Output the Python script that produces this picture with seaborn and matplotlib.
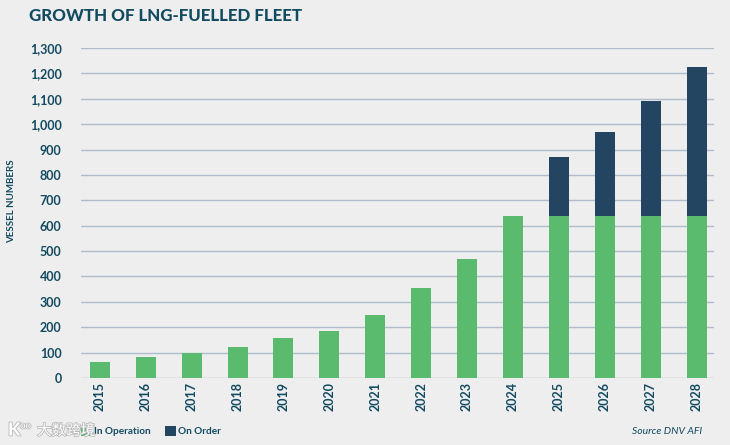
import numpy as np
import pandas as pd
import matplotlib
matplotlib.use('Agg')
import matplotlib.pyplot as plt
import matplotlib.patheffects as pe
from matplotlib.patches import Rectangle
import seaborn as sns

# growth of lng fleet
years = ['2015', '2016', '2017', '2018', '2019', '2020', '2021',
         '2022', '2023', '2024', '2025', '2026', '2027', '2028']
in_operation = [62, 82, 100, 122, 157, 185, 248, 355, 470, 640, 640, 640, 640, 640]
on_order = [0, 0, 0, 0, 0, 0, 0, 0, 0, 0, 230, 330, 452, 585]
y_ticks = list(range(0, 1400, 100))

BG = '#eeeeef'
GREEN = '#5abb6f'
NAVY = '#234561'
TEXT = '#124a60'
GRID = '#aebccb'

sns.set_theme(style='white')
plt.rcParams['font.family'] = ['Lato', 'DejaVu Sans']

df = pd.DataFrame({'year': years, 'op': in_operation, 'order': on_order})
df['total'] = df['op'] + df['order']

fig = plt.figure(figsize=(7.30, 4.45), dpi=100, facecolor=BG)
ax = fig.add_axes([81 / 730, 1 - 378 / 445, (714 - 81) / 730, (378 - 48) / 445], facecolor=BG)

# total first, green goes on top of it
sns.barplot(data=df, x='year', y='total', color=NAVY, width=0.436, saturation=1, linewidth=0, ax=ax, zorder=3)
sns.barplot(data=df, x='year', y='op', color=GREEN, width=0.436, saturation=1, linewidth=0, ax=ax, zorder=3)

ax.set_xlim(-0.41, 13.38)
ax.set_ylim(0, 1300)
ax.set_yticks(y_ticks)
ax.set_yticklabels([f'{v:,}' for v in y_ticks], fontsize=9, fontweight='bold', color=TEXT)
ax.tick_params(axis='y', length=0, pad=14)
ax.tick_params(axis='x', length=0, pad=3)
plt.setp(ax.get_xticklabels(), rotation=90, fontsize=9, fontweight='bold', color=TEXT)
ax.set_xlabel('')
ax.set_ylabel('')
ax.grid(axis='y', color=GRID, linewidth=1.0, zorder=0)
ax.set_axisbelow(True)
sns.despine(ax=ax, left=True, bottom=True)

fig.text(29 / 730, 1 - 16 / 445, 'GROWTH OF LNG-FUELLED FLEET', fontsize=12.2, fontweight='black',
         color=TEXT, va='center')
fig.text(12 / 730, 1 - 201 / 445, 'VESSEL NUMBERS', rotation=90, fontsize=7, color=TEXT,
         fontweight='bold', ha='center', va='center')

# hand made legend at the bottom
fig.add_artist(Rectangle((81 / 730, 1 - 436 / 445), 11 / 730, 10 / 445, transform=fig.transFigure,
                         color=GREEN, lw=0))
fig.text(94 / 730, 1 - 431 / 445, 'In Operation', fontsize=7.2, fontweight='bold', color=TEXT, va='center')
fig.add_artist(Rectangle((165 / 730, 1 - 436 / 445), 11 / 730, 10 / 445, transform=fig.transFigure,
                         color=NAVY, lw=0))
fig.text(178 / 730, 1 - 431 / 445, 'On Order', fontsize=7.2, fontweight='bold', color=TEXT, va='center')
fig.text(702 / 730, 1 - 431 / 445, 'Source DNV AFI', fontsize=7.5, style='italic', color=TEXT,
         ha='right', va='center')

# watermark
halo = [pe.withStroke(linewidth=1.2, foreground='#b9b9b9')]
fig.text(37 / 730, 1 - 431 / 445, '大数跨境', fontsize=10.5, color='white',
         family=['Noto Sans CJK SC', 'DejaVu Sans'], va='center', path_effects=halo)
fig.text(8 / 730, 1 - 430 / 445, 'K', fontsize=13, fontweight='bold', color='white', va='center', path_effects=halo)
fig.text(20 / 730, 1 - 426 / 445, 'oo', fontsize=7, color='white', va='center', path_effects=halo)

fig.savefig('out.png', dpi=100, facecolor=BG)
